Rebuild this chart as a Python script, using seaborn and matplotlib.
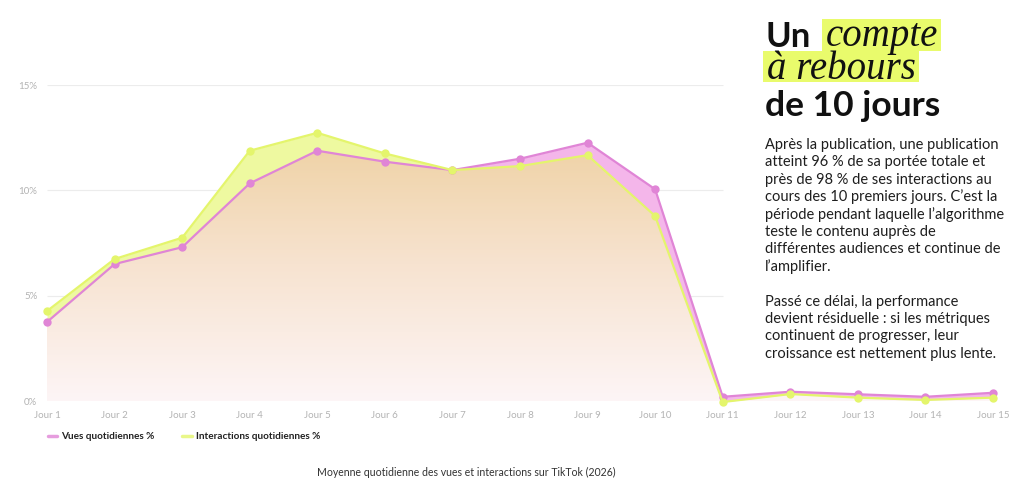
import matplotlib
matplotlib.use("Agg")
import matplotlib.pyplot as plt
import numpy as np
import pandas as pd
import seaborn as sns
from matplotlib.colors import LinearSegmentedColormap
from matplotlib.patches import Rectangle
from matplotlib.lines import Line2D

# ---- data ----
days = ["Jour 1", "Jour 2", "Jour 3", "Jour 4", "Jour 5", "Jour 6", "Jour 7", "Jour 8",
        "Jour 9", "Jour 10", "Jour 11", "Jour 12", "Jour 13", "Jour 14", "Jour 15"]
vues = [3.75, 6.5, 7.3, 10.33, 11.88, 11.36, 10.96, 11.5, 12.26, 10.05, 0.2, 0.44, 0.32, 0.2, 0.39]
interactions = [4.27, 6.74, 7.75, 11.88, 12.73, 11.75, 10.96, 11.15, 11.67, 8.78, -0.05, 0.33, 0.16, 0.05, 0.16]
y_ticks = [0, 5, 10, 15]
y_tick_labels = ["0%", "5%", "10%", "15%"]
series_names = ["Vues quotidiennes %", "Interactions quotidiennes %"]

PINK = "#e085d6"
LIME = "#e4f56c"
W, H = 1024, 490

sns.set_theme(style="white")
plt.rcParams["font.family"] = ["Lato", "DejaVu Sans"]

fig = plt.figure(figsize=(W / 100, H / 100), dpi=100)
fig.patch.set_facecolor("white")

def fx(x):
    return x / W

def fy(y):
    return 1 - y / H

ax_left, ax_right, ax_bottom, ax_top = 47, 993, 401, 85
ax = fig.add_axes([fx(ax_left), fy(ax_bottom), (ax_right - ax_left) / W, (ax_bottom - ax_top) / H])
ax.set_facecolor("none")

x = np.arange(len(days))
v = np.array(vues)
it = np.array(interactions)

df = pd.DataFrame({
    "x": np.concatenate([x, x]),
    "val": np.concatenate([v, it]),
    "serie": [series_names[0]] * len(x) + [series_names[1]] * len(x),
})

ax.set_xlim(0, 14)
ax.set_ylim(0, 15)

# gridlines
for yv in y_ticks[1:]:
    ax.hlines(yv, 0, 10, color="#ececec", lw=0.8, zorder=0)
ax.hlines(0, 0, 14, color="#e6e6e6", lw=0.8, zorder=0)

# gradient under the lower series
lower = np.minimum(v, it)
poly = ax.fill_between(x, 0, lower, color="none", lw=0)
cmap = LinearSegmentedColormap.from_list("grad", ["#fdf5f6", "#f7e3d0", "#eed0a0"])
grad = np.linspace(0, 1, 256).reshape(-1, 1)
im = ax.imshow(grad, extent=[0, 14, 0, 13], origin="lower", aspect="auto", cmap=cmap, zorder=1)
path = poly.get_paths()[0]
im.set_clip_path(path, transform=ax.transData)

# bands between the two series
ax.fill_between(x, v, it, where=it >= v, interpolate=True, color="#eef9a0", lw=0, zorder=1.5)
ax.fill_between(x, v, it, where=v >= it, interpolate=True, color="#f4b6ea", lw=0, zorder=1.5)

sns.lineplot(data=df, x="x", y="val", hue="serie", palette=[PINK, LIME], marker="o",
             markersize=6, markeredgewidth=0, linewidth=1.6, ax=ax, legend=False,
             zorder=3, clip_on=False)

for s in ax.spines.values():
    s.set_visible(False)
ax.set_xlabel("")
ax.set_ylabel("")
ax.set_xticks(x)
ax.set_xticklabels(days)
ax.set_yticks(y_ticks)
ax.set_yticklabels(y_tick_labels)
ax.tick_params(axis="x", length=0, pad=7, labelsize=7, labelcolor="#b3b3b3")
ax.tick_params(axis="y", length=0, pad=7, labelsize=7, labelcolor="#b3b3b3")
ax.grid(False)

# legend
fig.add_artist(Line2D([fx(48), fx(57)], [fy(436), fy(436)], color=PINK, lw=2.5, alpha=0.8))
fig.text(fx(61), fy(436), series_names[0], fontsize=7.2, fontweight="bold", color="#222222", va="center")
fig.add_artist(Line2D([fx(182), fx(192)], [fy(436), fy(436)], color=LIME, lw=2.5, alpha=0.8))
fig.text(fx(196), fy(436), series_names[1], fontsize=7.2, fontweight="bold", color="#222222", va="center")

# caption
fig.text(fx(466), fy(472), "Moyenne quotidienne des vues et interactions sur TikTok (2026)",
         fontsize=7.6, color="#333333", ha="center", va="center")

# title
HL = "#e9fb6c"
tx = 765
serif = ["Liberation Serif", "DejaVu Serif"]
t_un = fig.text(fx(tx), fy(47), "Un", fontsize=25, fontweight="bold", color="#111111", va="baseline")
t_compte = fig.text(fx(826), fy(46), "compte", fontsize=28, fontstyle="italic",
                    family=serif, color="#111111", va="baseline", zorder=3)
t_reb = fig.text(fx(767), fy(79), "à rebours", fontsize=28, fontstyle="italic",
                 family=serif, color="#111111", va="baseline", zorder=3)
t_de = fig.text(fx(tx), fy(116), "de 10 jours", fontsize=25.5, fontweight="bold", color="#111111", va="baseline")

fig.canvas.draw()
r = fig.canvas.get_renderer()
for t, (ytop, ybot) in [(t_compte, (19, 51)), (t_reb, (51, 82))]:
    bb = t.get_window_extent(renderer=r)
    x0 = bb.x0 - 4
    x1 = bb.x1 + 3
    fig.add_artist(Rectangle((x0 / W, fy(ybot)), (x1 - x0) / W, (ybot - ytop) / H,
                             transform=fig.transFigure, color=HL, lw=0, zorder=1))

body = [
    "Après la publication, une publication",
    "atteint 96 % de sa portée totale et",
    "près de 98 % de ses interactions au",
    "cours des 10 premiers jours. C’est la",
    "période pendant laquelle l’algorithme",
    "teste le contenu auprès de",
    "différentes audiences et continue de",
    "l’amplifier.",
    "",
    "Passé ce délai, la performance",
    "devient résiduelle : si les métriques",
    "continuent de progresser, leur",
    "croissance est nettement plus lente.",
]
for i, line in enumerate(body):
    if line:
        fig.text(fx(765), fy(149 + i * 17.4), line, fontsize=10.5, color="#1e1e1e", va="baseline")

fig.savefig("out.png", dpi=100, facecolor="white")
